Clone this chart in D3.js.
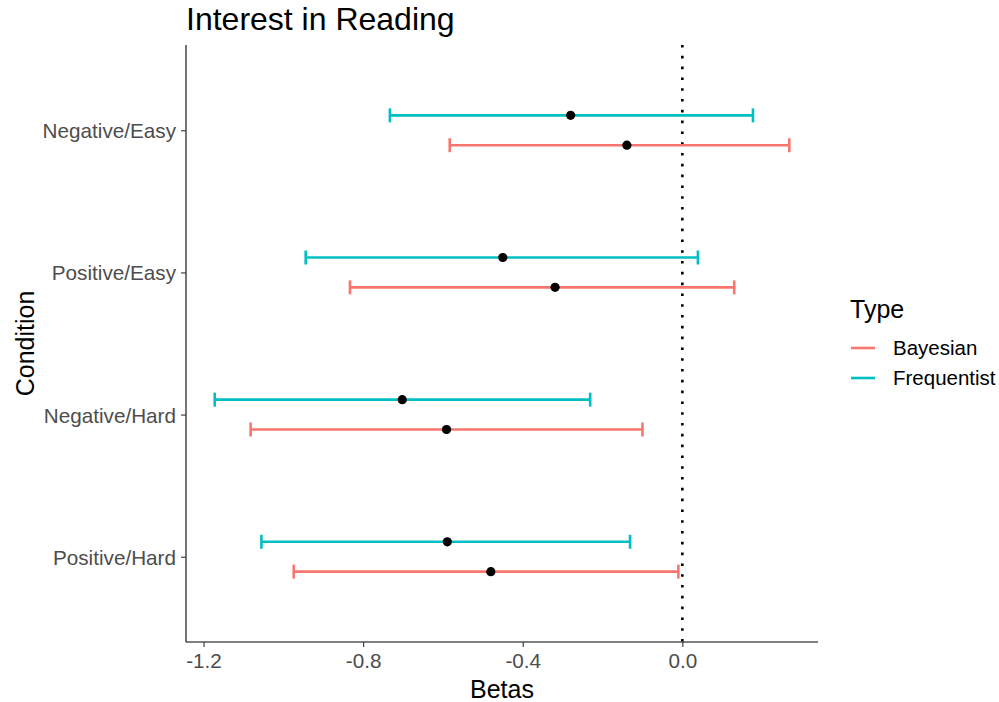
<!DOCTYPE html>
<html>
<head>
<meta charset="utf-8">
<script src="https://cdn.jsdelivr.net/npm/d3@7"></script>
<style>
  body { margin: 0; background: #fff; }
  svg text { font-family: "Liberation Sans", Arial, sans-serif; }
</style>
</head>
<body>
<svg id="chart" width="999" height="702"></svg>
<script>
// ---- data ----
const conditions = ["Negative/Easy", "Positive/Easy", "Negative/Hard", "Positive/Hard"];
const types      = ["Bayesian", "Frequentist"];
const typeColors = ["#F8766D", "#00BFC4"];

const bayesEst = [-0.139, -0.319, -0.591, -0.480];
const bayesLo  = [-0.583, -0.833, -1.082, -0.974];
const bayesHi  = [ 0.268,  0.130, -0.100, -0.010];

const freqEst  = [-0.280, -0.450, -0.702, -0.589];
const freqLo   = [-0.733, -0.944, -1.172, -1.055];
const freqHi   = [ 0.177,  0.039, -0.231, -0.131];

const xTicks = [-1.2, -0.8, -0.4, 0.0];

// rows built from the arrays
let rows = [];
conditions.forEach((c, i) => {
    rows.push({ cond: c, type: "Bayesian",    est: bayesEst[i], lo: bayesLo[i], hi: bayesHi[i] });
    rows.push({ cond: c, type: "Frequentist", est: freqEst[i],  lo: freqLo[i],  hi: freqHi[i] });
});

// ---- layout ----
const panel = { left: 186, right: 818, top: 45, bottom: 642 };

let svg = d3.select("#chart");

let lo = d3.min(rows, d => d.lo);
let hi = d3.max(rows, d => d.hi);
let pad = (hi - lo) * 0.05;

let x = d3.scaleLinear()
    .domain([lo - pad, hi + pad])
    .range([panel.left, panel.right]);

let y = d3.scalePoint()
    .domain(conditions)
    .range([panel.top, panel.bottom])
    .padding(0.6);

let color = d3.scaleOrdinal().domain(types).range(typeColors);

// dodge: Frequentist above, Bayesian below
let dodge = d3.scalePoint()
    .domain(["Frequentist", "Bayesian"])
    .range([-y.step() * 0.105, y.step() * 0.105]);

// ---- reference line at 0 ----
svg.append("line")
    .attr("x1", x(0)).attr("x2", x(0))
    .attr("y1", panel.top).attr("y2", panel.bottom)
    .attr("stroke", "#000")
    .attr("stroke-width", 2.6)
    .attr("stroke-dasharray", "2.6,8.2");

// ---- error bars ----
let bars = svg.append("g").attr("class", "bars")
    .selectAll("g.bar")
    .data(rows)
    .enter()
    .append("g")
    .attr("class", "bar")
    .attr("transform", d => "translate(0," + (y(d.cond) + dodge(d.type)) + ")")
    .attr("stroke", d => color(d.type))
    .attr("stroke-width", 2.6);

bars.append("line")
    .attr("x1", d => x(d.lo)).attr("x2", d => x(d.hi))
    .attr("y1", 0).attr("y2", 0);

bars.append("line")
    .attr("x1", d => x(d.lo)).attr("x2", d => x(d.lo))
    .attr("y1", -7).attr("y2", 7);

bars.append("line")
    .attr("x1", d => x(d.hi)).attr("x2", d => x(d.hi))
    .attr("y1", -7).attr("y2", 7);

svg.append("g").attr("class", "points")
    .selectAll("circle")
    .data(rows)
    .enter()
    .append("circle")
    .attr("cx", d => x(d.est))
    .attr("cy", d => y(d.cond) + dodge(d.type))
    .attr("r", 4.6)
    .attr("fill", "#000");

// ---- axes ----
let xAxis = svg.append("g")
    .attr("transform", "translate(0," + panel.bottom + ")")
    .call(d3.axisBottom(x).tickValues(xTicks).tickFormat(d => d.toFixed(1)).tickSize(5).tickPadding(5));

let yAxis = svg.append("g")
    .attr("transform", "translate(" + panel.left + ",0)")
    .call(d3.axisLeft(y).tickSize(5).tickPadding(5));

[xAxis, yAxis].forEach(a => {
    a.select(".domain").attr("stroke", "#000").attr("stroke-width", 1.1);
    a.selectAll(".tick line").attr("stroke", "#333").attr("stroke-width", 1.1);
    a.selectAll(".tick text")
        .attr("fill", "#4D4D4D")
        .style("font-size", "20.7px")
        .style("font-family", "'Liberation Sans', Arial, sans-serif");
});
xAxis.selectAll(".tick text").attr("dy", "0.75em");
yAxis.selectAll(".tick text").attr("dy", "0.36em");
xAxis.select(".domain").attr("d", "M" + panel.left + ",0H" + panel.right);
yAxis.select(".domain").attr("d", "M0," + panel.top + "V" + panel.bottom);

// ---- titles ----
svg.append("text")
    .attr("x", panel.left)
    .attr("y", 30)
    .style("font-size", "32px")
    .attr("fill", "#000")
    .text("Interest in Reading");

svg.append("text")
    .attr("x", (panel.left + panel.right) / 2)
    .attr("y", 698)
    .attr("text-anchor", "middle")
    .style("font-size", "25px")
    .attr("fill", "#000")
    .text("Betas");

svg.append("text")
    .attr("transform", "translate(34," + ((panel.top + panel.bottom) / 2) + ") rotate(-90)")
    .attr("text-anchor", "middle")
    .style("font-size", "25px")
    .attr("fill", "#000")
    .text("Condition");

// ---- legend ----
let legend = svg.append("g").attr("transform", "translate(850,0)");

legend.append("text")
    .attr("x", 0)
    .attr("y", 318)
    .style("font-size", "25px")
    .attr("fill", "#000")
    .text("Type");

let items = legend.selectAll("g.item")
    .data(types)
    .enter()
    .append("g")
    .attr("class", "item")
    .attr("transform", (d, i) => "translate(0," + (348 + i * 30) + ")");

items.append("line")
    .attr("x1", 1).attr("x2", 25)
    .attr("y1", 0).attr("y2", 0)
    .attr("stroke", d => color(d))
    .attr("stroke-width", 2.6);

items.append("text")
    .attr("x", 43)
    .attr("y", 0)
    .attr("dy", "0.35em")
    .style("font-size", "20.5px")
    .attr("fill", "#000")
    .text(d => d);
</script>
</body>
</html>
